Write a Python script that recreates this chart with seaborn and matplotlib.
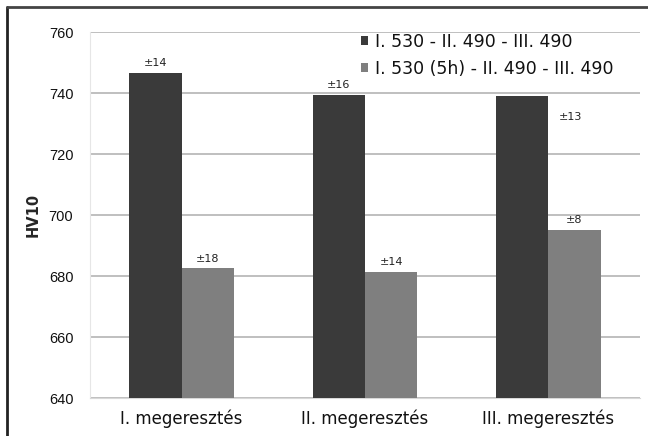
import pandas as pd
import seaborn as sns
import matplotlib.pyplot as plt
from matplotlib.lines import Line2D

# Adatok
kategoriak = ['I. megeresztés', 'II. megeresztés', 'III. megeresztés']
sorozatok = ['I. 530 - II. 490 - III. 490', 'I. 530 (5h) - II. 490 - III. 490']
hv_sor1 = [746.6, 739.4, 738.9]
hv_sor2 = [682.5, 681.4, 695.1]
szoras_sor1 = ['±14', '±16', '±13']
szoras_sor2 = ['±18', '±14', '±8']

df = pd.DataFrame({
    'kategoria': kategoriak * 2,
    'sorozat': [sorozatok[0]] * 3 + [sorozatok[1]] * 3,
    'HV10': hv_sor1 + hv_sor2,
})

sns.set_style('white')
plt.rcParams['font.family'] = ['DejaVu Sans']

fig = plt.figure(figsize=(6.48, 4.36), dpi=100)
ax = fig.add_axes([90 / 648, 1 - 398 / 436, 550 / 648, 366 / 436])

sns.barplot(data=df, x='kategoria', y='HV10', hue='sorozat',
            palette=['#3a3a3a', '#7f7f7f'], width=0.57, saturation=1,
            ax=ax, zorder=3, linewidth=0)

ax.set_ylim(640, 760)
ax.set_xlim(-0.5, 2.5)
ax.set_yticks(range(640, 761, 20))
ax.yaxis.grid(True, color='#b4b4b4', linewidth=1.2, zorder=0)
ax.set_axisbelow(True)
ax.set_xticks([-0.5, 0.5, 1.5, 2.5], minor=True)
ax.tick_params(axis='x', which='major', length=0, labelsize=12, pad=8)
ax.tick_params(axis='x', which='minor', length=5, color='#d8d8d8', direction='out')
ax.tick_params(axis='y', length=6, color='#e0e0e0', labelsize=10.5, pad=6)
for lab in ax.get_yticklabels():
    lab.set_family('Liberation Sans')
    lab.set_color('#111111')
for lab in ax.get_xticklabels():
    lab.set_color('#111111')
ax.set_xlabel('')
ax.set_ylabel('HV10', fontsize=10.5, fontweight='bold', labelpad=6)

for side in ['top', 'right']:
    ax.spines[side].set_visible(False)
ax.spines['left'].set_color('#e6e6e6')
ax.spines['bottom'].set_color('#d8d8d8')

# Szórás feliratok
feliratok = szoras_sor1 + szoras_sor2
bars = [p for p in ax.patches if p.get_height() > 0][:6]
for i, (p, txt) in enumerate(zip(bars, feliratok)):
    x = p.get_x() + p.get_width() / 2
    y = p.get_height() + p.get_y()
    if i == 2:
        ax.annotate(txt, (p.get_x() + p.get_width(), y), xytext=(16, -15),
                    textcoords='offset points', ha='center', va='center',
                    fontsize=8, color='#222222')
    else:
        ax.annotate(txt, (x, y), xytext=(0, 7), textcoords='offset points',
                    ha='center', va='center', fontsize=8, color='#222222')

leg = ax.legend(loc='upper left', frameon=False, fontsize=12.5,
                handlelength=0.42, handleheight=0.42, handletextpad=0.4,
                labelspacing=0.5, borderaxespad=0, borderpad=0)
leg.set_bbox_to_anchor((361 / 648, 1 - 33 / 436), transform=fig.transFigure)
for t in leg.get_texts():
    t.set_color('#111111')

# Keret
fig.add_artist(Line2D([7 / 648, 7 / 648], [0, 1 - 7 / 436], color='#222222', lw=2))
fig.add_artist(Line2D([7 / 648, 1], [1 - 7 / 436, 1 - 7 / 436], color='#444444', lw=2))

fig.savefig('out.png', dpi=100)
